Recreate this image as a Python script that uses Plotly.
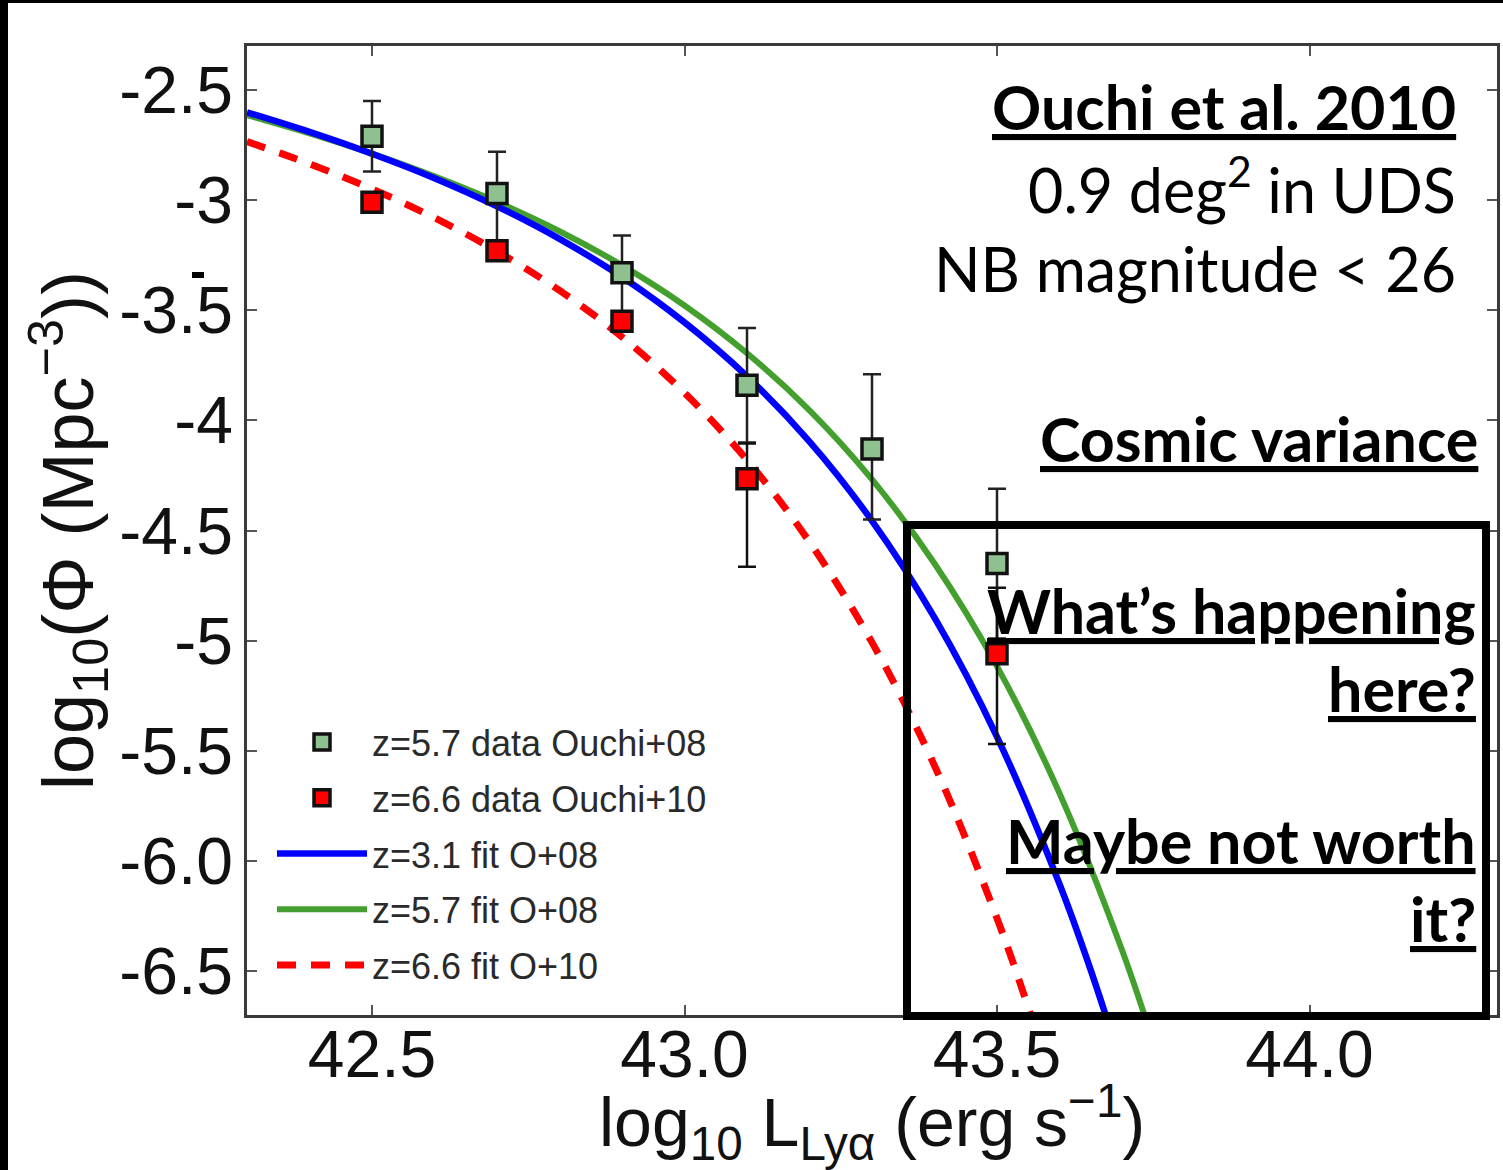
import plotly.graph_objects as go

# ---------------- data ----------------
# z=5.7 data Ouchi+08
z57_x = [42.5, 42.7, 42.9, 43.1, 43.3, 43.5]
z57_y = [-2.71, -2.97, -3.33, -3.84, -4.13, -4.65]
z57_err_up = [0.16, 0.19, 0.17, 0.26, 0.34, 0.34]
z57_err_dn = [0.16, 0.22, 0.19, 0.26, 0.32, 0.34]

# z=6.6 data Ouchi+10
z66_x = [42.5, 42.7, 42.9, 43.1, 43.5]
z66_y = [-3.01, -3.23, -3.55, -4.265, -5.06]
z66_err_up = [0.04, 0.04, 0.04, 0.16, 0.30]
z66_err_dn = [0.04, 0.04, 0.04, 0.40, 0.41]

# fitted curves, read along the luminosity axis
fit31_x = [42.30, 42.40, 42.50, 42.60, 42.70, 42.80, 42.90, 43.00, 43.10, 43.20,
           43.30, 43.40, 43.50, 43.60, 43.65, 43.70]
fit31_y = [-2.601, -2.690, -2.789, -2.900, -3.028, -3.176, -3.349, -3.555, -3.800, -4.096,
           -4.456, -4.896, -5.437, -6.105, -6.496, -6.933]

fit57_x = [42.30, 42.40, 42.50, 42.60, 42.70, 42.80, 42.90, 43.00, 43.10, 43.20,
           43.30, 43.40, 43.50, 43.60, 43.70, 43.75]
fit57_y = [-2.614, -2.697, -2.789, -2.892, -3.008, -3.141, -3.296, -3.478, -3.695, -3.954,
           -4.268, -4.650, -5.117, -5.693, -6.405, -6.823]

fit66_x = [42.30, 42.40, 42.50, 42.60, 42.70, 42.80, 42.90, 43.00, 43.10, 43.20,
           43.30, 43.40, 43.50, 43.55, 43.60]
fit66_y = [-2.734, -2.835, -2.949, -3.080, -3.232, -3.410, -3.621, -3.875, -4.180, -4.552,
           -5.008, -5.568, -6.261, -6.667, -7.120]

x_tickvals = [42.5, 43.0, 43.5, 44.0]
x_ticktext = ["42.5", "43.0", "43.5", "44.0"]
y_tickvals = [-2.5, -3, -3.5, -4, -4.5, -5, -5.5, -6, -6.5]
y_ticktext = ["-2.5", "-3", "-3.5", "-4", "-4.5", "-5", "-5.5", "-6.0", "-6.5"]

# ---------------- layout helpers ----------------
W, H = 1503, 1170
PL, PR, PT, PB = 247, 1497, 46, 1015


def px_x(p):
    return (p - PL) / (PR - PL)


def px_y(p):
    return (PB - p) / (PB - PT)


AX_FONT = "Liberation Sans, Arial, sans-serif"
NOTE_FONT = "Lato, Noto Sans, sans-serif"

fig = go.Figure()

fig.add_trace(go.Scatter(x=fit57_x, y=fit57_y, mode="lines", name="z=5.7 fit O+08",
                         line=dict(color="#44a02e", width=6, shape="spline"),
                         legendgroup="d", legendrank=4))
fig.add_trace(go.Scatter(x=fit31_x, y=fit31_y, mode="lines", name="z=3.1 fit O+08",
                         line=dict(color="#0000ff", width=6.5, shape="spline"),
                         legendgroup="c", legendrank=3))
fig.add_trace(go.Scatter(x=fit66_x, y=fit66_y, mode="lines", name="z=6.6 fit O+10",
                         line=dict(color="#ff0000", width=7, shape="spline", dash="19px,15px"),
                         legendgroup="e", legendrank=5))

fig.add_trace(go.Scatter(x=z57_x, y=z57_y, mode="markers", name="z=5.7 data Ouchi+08",
                         marker=dict(symbol="square", size=20, color="#8fc08f",
                                     line=dict(color="#111", width=3.5)),
                         error_y=dict(type="data", symmetric=False, array=z57_err_up,
                                      arrayminus=z57_err_dn, color="#222", thickness=2.5, width=9),
                         legendgroup="a", legendrank=1))
fig.add_trace(go.Scatter(x=z66_x, y=z66_y, mode="markers", name="z=6.6 data Ouchi+10",
                         marker=dict(symbol="square", size=20, color="#ff0000",
                                     line=dict(color="#111", width=3.5)),
                         error_y=dict(type="data", symmetric=False, array=z66_err_up,
                                      arrayminus=z66_err_dn, color="#111", thickness=2.5, width=9),
                         legendgroup="b", legendrank=2))

axis_common = dict(showgrid=False, zeroline=False, ticks="inside", ticklen=10, tickwidth=1.5,
                   tickcolor="#555", showline=True, linecolor="#3a3a3a", linewidth=2.5,
                   mirror="ticks", tickfont=dict(family=AX_FONT, size=66, color="#111"))

fig.update_xaxes(range=[42.3, 44.3], tickvals=x_tickvals, ticktext=x_ticktext,
                 ticklabelstandoff=-20,
                 title=dict(text="log<sub>10</sub> L<sub>Lyα</sub> (erg s<sup>−1</sup>)",
                            font=dict(family=AX_FONT, size=68, color="#111"), standoff=32),
                 **axis_common)
fig.update_yaxes(range=[-6.7, -2.3], tickvals=y_tickvals, ticktext=y_ticktext,
                 ticklabelstandoff=-2,
                 title=dict(text="log<sub>10</sub>(Φ (Mpc<sup>−3</sup>))",
                            font=dict(family=AX_FONT, size=72, color="#111"), standoff=2),
                 **axis_common)

notes = [
    ("<b><u>Ouchi et al. 2010</u></b>", 1458, 106),
    ("0.9 deg<sup>2</sup> in UDS", 1458, 186),
    ("NB magnitude &lt; 26", 1458, 268),
    ("<b><u>Cosmic variance</u></b>", 1480, 438),
    ("<b><u>What’s happening</u></b>", 1478, 610),
    ("<b><u>here?</u></b>", 1478, 688),
    ("<b><u>Maybe not worth</u></b>", 1478, 840),
    ("<b><u>it?</u></b>", 1478, 918),
]
annotations = []
for txt, xr, yc in notes:
    annotations.append(dict(text=txt, x=px_x(xr), y=px_y(yc), xref="paper", yref="paper",
                            xanchor="right", yanchor="middle", showarrow=False,
                            font=dict(family=NOTE_FONT, size=61, color="#000")))

shapes = [
    # slide frame strips
    dict(type="rect", xref="paper", yref="paper", x0=px_x(0), x1=px_x(8), y0=px_y(H), y1=px_y(0),
         fillcolor="#000", line=dict(width=0), layer="above"),
    dict(type="rect", xref="paper", yref="paper", x0=px_x(0), x1=px_x(W), y0=px_y(3), y1=px_y(0),
         fillcolor="#000", line=dict(width=0), layer="above"),
    # highlight box
    dict(type="rect", xref="paper", yref="paper", x0=px_x(907), x1=px_x(1486),
         y0=px_y(1016), y1=px_y(525), line=dict(color="#000", width=8), layer="above"),
    # small stray dash
    dict(type="rect", xref="paper", yref="paper", x0=px_x(192), x1=px_x(204),
         y0=px_y(278), y1=px_y(272), fillcolor="#000", line=dict(width=0), layer="above"),
]

fig.update_layout(
    width=W, height=H,
    margin=dict(l=PL, r=W - PR, t=PT, b=H - PB, autoexpand=False),
    paper_bgcolor="white", plot_bgcolor="white",
    showlegend=True,
    legend=dict(x=px_x(272), y=px_y(712), xanchor="left", yanchor="top",
                bgcolor="rgba(0,0,0,0)", borderwidth=0, traceorder="grouped",
                tracegroupgap=6, itemwidth=90,
                font=dict(family=AX_FONT, size=36, color="#2a2a2a")),
    annotations=annotations,
    shapes=shapes,
)

fig.write_html("out.html")
